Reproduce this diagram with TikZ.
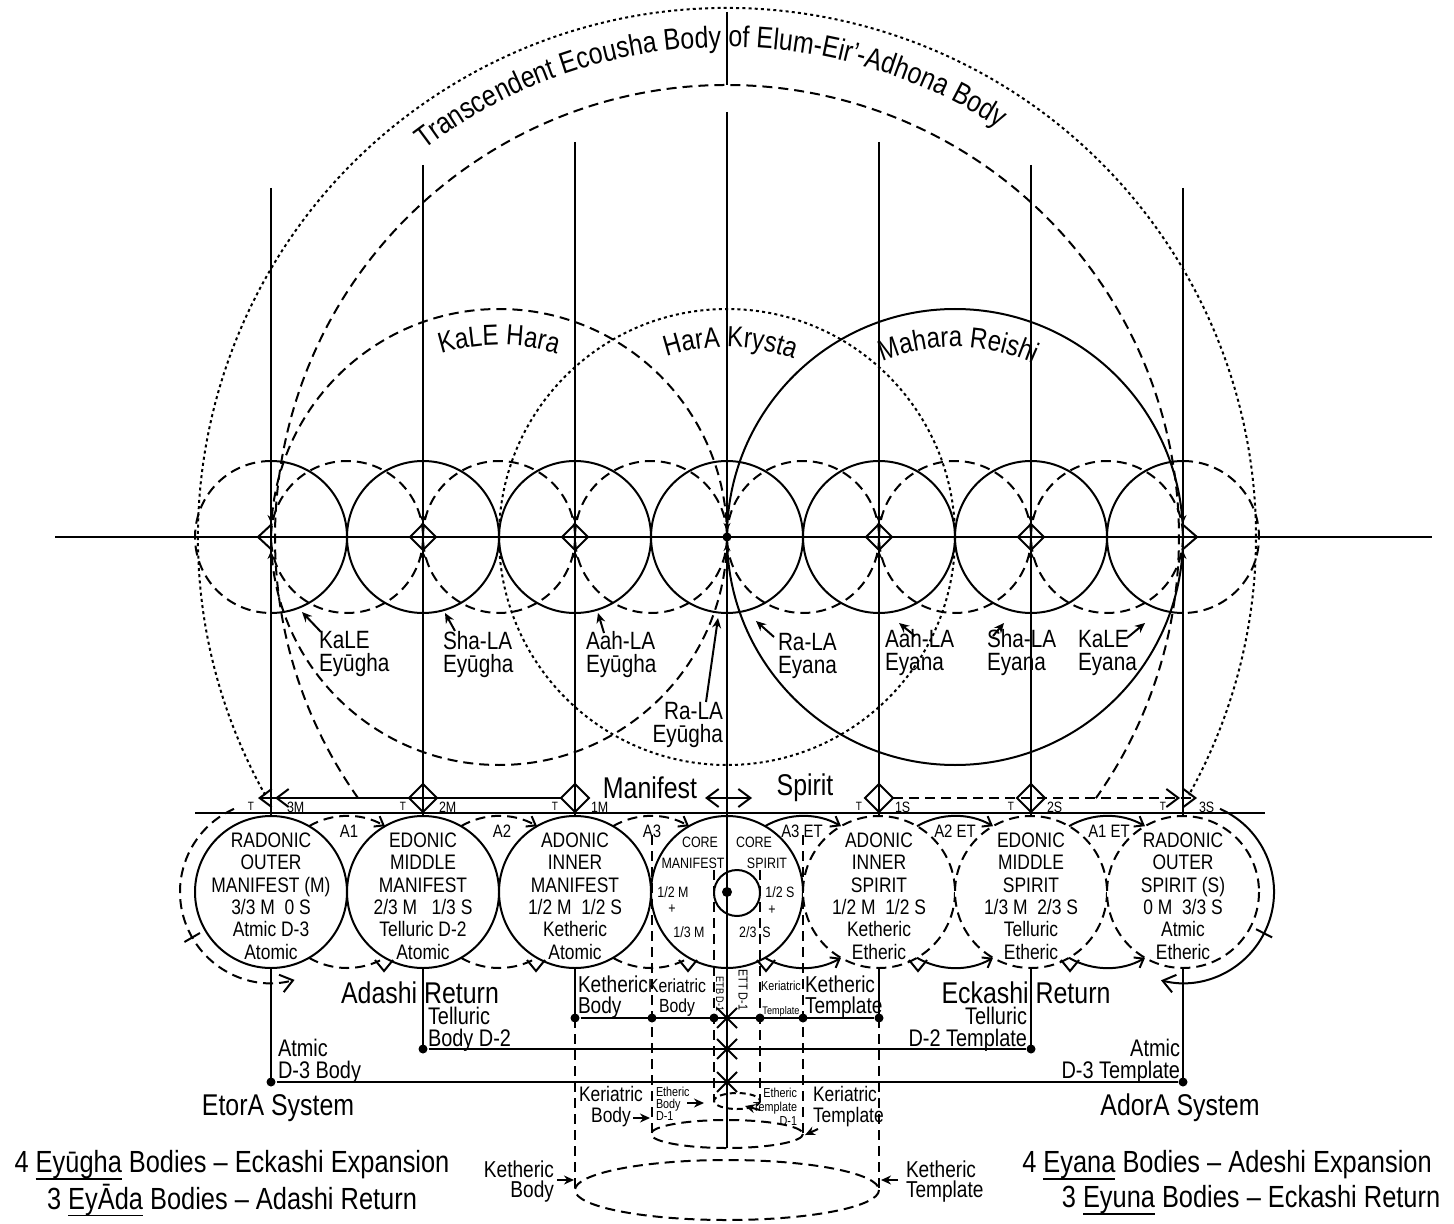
\documentclass[tikz,border=0pt]{standalone}
\usepackage{fontspec}
\setmainfont{Liberation Sans}[FakeStretch=0.83]
\usetikzlibrary{arrows.meta,decorations.text}
\newcommand{\fsz}[2]{\fontsize{#1}{#2}\selectfont}
\newcommand{\uln}[1]{\setbox0=\hbox{#1}\rlap{\rule[-3.6pt]{\wd0}{0.7pt}}\box0\relax}
\tikzset{
  dsh/.style={dash pattern=on 5pt off 3pt},
  dts/.style={dash pattern=on 1.5pt off 1.6pt},
  sbarb/.style={-{Straight Barb[length=4pt,width=6pt]}},
  tip/.style={-{Stealth[length=4pt,width=3.5pt]}},
  lbl/.style={-{Stealth[length=5pt,width=4.5pt]}},
  txt/.style={inner sep=0pt, align=center},
  dot/.style={circle, fill, inner sep=0pt, minimum size=4.5pt},
  arctext/.style={decorate, decoration={text along path, text align=center, text={#1}}},
}
\begin{document}
\begin{tikzpicture}[line width=1pt, x=0.5pt, y=-0.5pt, >={Straight Barb[length=6pt,width=9pt]}]
\useasboundingbox (0,0) rectangle (1454,1224);

%outer circles
\draw[dts] (727,537) ++(150.8:529) arc[start angle=150.8, end angle=389.2, radius=529];
\draw[dsh] (727,537) ++(144.7:452) arc[start angle=144.7, end angle=395.3, radius=452];
\path[arctext={|\fsz{15}{15}|Transcendent Ecousha Body of Elum-Eir'-Adhona Body}]
  ([shift={(-132.2:498)}]727,545) arc[start angle=-132.2, end angle=-52.2, radius=498];

%hara circles
\draw[dsh] (499,537) circle[radius=228];
\draw[dts] (727,537) circle[radius=228];
\draw (955,537) circle[radius=228];
\path[arctext={|\fsz{14.5}{14}|KaLE Hara}] ([shift={(-125:192)}]499,537) arc[start angle=-125, end angle=-55, radius=192];
\path[arctext={|\fsz{14.5}{14}|HarA Krysta}] ([shift={(-124:190)}]727,537) arc[start angle=-124, end angle=-54, radius=190];
\path[arctext={|\fsz{14.5}{14}|Mahara Reishi}] ([shift={(-124:190)}]955,537) arc[start angle=-124, end angle=-54, radius=190];

%axes
\draw (55,537) -- (1432,537);
\draw (727,12) -- (727,85);
\foreach \x/\t/\b in {271/188/1082, 423/165/1049, 575/142/1018, 879/142/1018, 1031/165/1049, 1183/188/1082}
  \draw (\x,\t) -- (\x,\b);

%eyugha and eyana circles
\foreach \x in {347,499,651,803,955,1107}
  \draw[dsh] (\x,537) circle[radius=76];
\foreach \x in {423,575,727,879,1031}
  \draw (\x,537) circle[radius=76];
\draw (271,461) arc[start angle=-90, end angle=90, radius=76];
\draw[dsh] (271,461) arc[start angle=-90, end angle=-270, radius=76];
\draw (1183,461) arc[start angle=-90, end angle=-270, radius=76];
\draw[dsh] (1183,461) arc[start angle=-90, end angle=90, radius=76];
\foreach \x in {423,575,879,1031}
  \draw (\x,524) -- (\x+13,537) -- (\x,550) -- (\x-13,537) -- cycle;
\draw (272,524) -- (258,537) -- (272,550);
\draw (1182,524) -- (1197,537) -- (1182,550);
\foreach \x in {271,423,575,879,1031,1183}{
  \draw[tip] (\x,508) -- (\x,523);
  \draw[tip] (\x,566) -- (\x,551);
}
\draw[tip] (727,514) -- (727,531);
\draw[tip] (727,560) -- (727,543);
\node[dot] (ctr) at (727,537) {};

%eyugha and eyana labels
\node[txt, align=left, anchor=west, font=\fsz{12.5}{11.5}] (keg) at (318,654) {KaLE\\Eyūgha};
\node[txt, align=left, anchor=west, font=\fsz{12.5}{11.5}] (seg) at (442,655) {Sha-LA\\Eyūgha};
\node[txt, align=left, anchor=west, font=\fsz{12.5}{11.5}] (aeg) at (585,655) {Aah-LA\\Eyūgha};
\node[txt, align=right, anchor=east, font=\fsz{12.5}{11.5}] (reg) at (724,725) {Ra-LA\\Eyūgha};
\node[txt, align=left, anchor=west, font=\fsz{12.5}{11.5}] (rey) at (777,656) {Ra-LA\\Eyana};
\node[txt, align=left, anchor=west, font=\fsz{12.5}{11.5}] (aey) at (884,653) {Aah-LA\\Eyana};
\node[txt, align=left, anchor=west, font=\fsz{12.5}{11.5}] (sey) at (986,653) {Sha-LA\\Eyana};
\node[txt, align=left, anchor=west, font=\fsz{12.5}{11.5}] (key) at (1077,653) {KaLE\\Eyana};
\foreach \n/\ax/\ay/\bx/\by in {ke/321/632/302/612, se/455/631/445/613, ae/604/633/598/613, re/706/702/718/618,
  ra/774/637/756/621, aa/915/636/899/623, sa/993/636/1004/623, kn/1127/638/1145/623}{
  \coordinate (\n1) at (\ax,\ay);
  \coordinate (\n2) at (\bx,\by);
  \draw[lbl] (\n1) -- (\n2);
}

%manifest and spirit row
\foreach \x/\s in {271/solid, 423/solid, 575/solid, 727/solid, 879/dsh, 1031/dsh, 1183/dsh}
  \draw[\s, fill=white] (\x,892) circle[radius=76];
\draw (195,813) -- (1265,813);
\draw[->] (561,798) -- (258,798);
\draw[->] (276,798) -- (275,798);
\draw[dsh,->] (893,798) -- (1197,798);
\draw[->] (1179,798) -- (1180,798);
\draw[<->] (705,798) -- (752,798);
\foreach \x in {423,575,879,1031}
  \draw (\x,784) -- (\x+14,798) -- (\x,812) -- (\x-14,798) -- cycle;
\foreach \x/\m in {271/3M, 423/2M, 575/1M, 879/1S, 1031/2S, 1183/3S}{
  \node[txt, font=\fsz{6}{6}] (tt\x) at (\x-20,806) {T};
  \node[txt, anchor=west, font=\fsz{7.5}{7.5}] (mm\x) at (\x+15,807) {\m};
}
\node[txt, font=\fsz{15}{15}] (man) at (650,788) {Manifest};
\node[txt, font=\fsz{15}{15}] (spi) at (805,788) {Spirit};

%connector arcs
\foreach \x in {347,499,651}{
  \draw[dsh,sbarb] (\x,892) ++(-120:76) arc[start angle=-120, end angle=-60, radius=76];
  \draw[dsh] (\x,892) ++(120:76) arc[start angle=120, end angle=60, radius=76];
  \draw (\x+28,960) -- (\x+37,971) -- (\x+46,960);
}
\foreach \x in {803,955,1107}{
  \draw[sbarb] (\x,892) ++(-120:76) arc[start angle=-120, end angle=-60, radius=76];
  \draw[sbarb] (\x,892) ++(120:76) arc[start angle=120, end angle=60, radius=76];
  \draw (\x-46,960) -- (\x-37,971) -- (\x-28,960);
}
\draw[dsh,->] (271,892) ++(-114:91) arc[start angle=-114, end angle=-285, radius=91];
\draw (271,892) ++(150:82) -- ++(150:18);
\draw[->] (1183,892) ++(-66:91) arc[start angle=-66, end angle=104, radius=91];
\draw (1183,892) ++(27:82) -- ++(27:18);
\node[txt, font=\fsz{9}{9}] (a1) at (349,831) {A1};
\node[txt, font=\fsz{9}{9}] (a2) at (502,831) {A2};
\node[txt, font=\fsz{9}{9}] (a3) at (652,831) {A3};
\node[txt, font=\fsz{9}{9}] (a3e) at (802,831) {A3 ET};
\node[txt, font=\fsz{9}{9}] (a2e) at (955,831) {A2 ET};
\node[txt, font=\fsz{9}{9}] (a1e) at (1109,831) {A1 ET};

%circle texts
\node[txt, font=\fsz{10.5}{11.2}] (rom) at (271,896) {RADONIC\\OUTER\\MANIFEST (M)\\3/3 M\ \ 0 S\\Atmic D-3\\Atomic};
\node[txt, font=\fsz{10.5}{11.2}] (emm) at (423,896) {EDONIC\\MIDDLE\\MANIFEST\\2/3 M\ \ \ 1/3 S\\Telluric D-2\\Atomic};
\node[txt, font=\fsz{10.5}{11.2}] (aim) at (575,896) {ADONIC\\INNER\\MANIFEST\\1/2 M\ \ 1/2 S\\Ketheric\\Atomic};
\node[txt, font=\fsz{10.5}{11.2}] (ais) at (879,896) {ADONIC\\INNER\\SPIRIT\\1/2 M\ \ 1/2 S\\Ketheric\\Etheric};
\node[txt, font=\fsz{10.5}{11.2}] (ems) at (1031,896) {EDONIC\\MIDDLE\\SPIRIT\\1/3 M\ \ 2/3 S\\Telluric\\Etheric};
\node[txt, font=\fsz{10.5}{11.2}] (ros) at (1183,896) {RADONIC\\OUTER\\SPIRIT (S)\\0 M\ \ 3/3 S\\Atmic\\Etheric};

%core
\draw (727,112) -- (727,1148);
\draw (737,893) circle[radius=23];
\node[dot, minimum size=5pt] (cdot) at (727,892) {};
\node[txt, font=\fsz{7.5}{7.5}] (c1) at (700,842) {CORE};
\node[txt, font=\fsz{7.5}{7.5}] (c2) at (693,863) {MANIFEST};
\node[txt, font=\fsz{7.5}{7.5}] (c3) at (754,842) {CORE};
\node[txt, font=\fsz{7.5}{7.5}] (c4) at (767,863) {SPIRIT};
\node[txt, font=\fsz{7.5}{7.5}] (c5) at (673,892) {1/2 M};
\node[txt, font=\fsz{7.5}{7.5}] (c6) at (672,909) {+};
\node[txt, font=\fsz{7.5}{7.5}] (c7) at (689,932) {1/3 M};
\node[txt, font=\fsz{7.5}{7.5}] (c8) at (780,892) {1/2 S};
\node[txt, font=\fsz{7.5}{7.5}] (c9) at (772,910) {+};
\node[txt, font=\fsz{7.5}{7.5}] (c10) at (755,932) {2/3\ \,S};

%bodies and templates
\draw[dsh] (575,1018) -- (575,1190);
\draw[dsh] (879,1018) -- (879,1190);
\draw[dsh] (652,835) -- (652,1134);
\draw[dsh] (803,835) -- (803,1134);
\draw[dsh] (714,870) -- (714,1101);
\draw[dsh] (760,870) -- (760,1101);
\foreach \x in {575,652,714,760,803,879}
  \node[dot] (ka\x) at (\x,1018) {};
\node[dot] (te423) at (423,1049) {};
\node[dot] (te1031) at (1031,1049) {};
\node[dot] (at271) at (271,1082) {};
\node[dot] (at1183) at (1183,1082) {};
\draw (ka575) -- (ka879);
\draw (te423) -- (te1031);
\draw (at271) -- (at1183);
\foreach \y in {1018,1049,1082}{
  \draw (717,\y-10) -- (737,\y+10);
  \draw (717,\y+10) -- (737,\y-10);
}
\draw[dsh] (727,1190) ellipse[x radius=152, y radius=30];
\draw[dsh] (727,1134) ellipse[x radius=76, y radius=14];
\draw[dash pattern=on 3pt off 2pt] (737,1101) ellipse[x radius=23, y radius=8];

\node[txt, font=\fsz{15}{15}] (adr) at (420,993) {Adashi Return};
\node[txt, font=\fsz{15}{15}] (ecr) at (1026,993) {Eckashi Return};
\node[txt, align=left, anchor=west, font=\fsz{11.5}{10.5}] (keb) at (577,997) {Ketheric\\Body};
\node[txt, font=\fsz{9.5}{10}] (krb) at (677,998) {Keriatric\\Body};
\node[txt, rotate=-90, font=\fsz{5.5}{6}] (etb) at (720,994) {ETB D-1};
\node[txt, rotate=-90, font=\fsz{6.5}{7}] (ett) at (743,990) {ETT D-1};
\node[txt] (krt) at (781,999) {\fsz{6.5}{7}Keriatric\\\fsz{5.5}{8}Template};
\node[txt, align=left, anchor=west, font=\fsz{11.5}{10.5}] (ket) at (804,997) {Ketheric\\Template};
\node[txt, align=left, anchor=west, font=\fsz{12}{11}] (tbd) at (427,1029) {Telluric\\Body D-2};
\node[txt, align=left, anchor=west, font=\fsz{12}{11}] (abd) at (277,1061) {Atmic\\D-3 Body};
\node[txt, align=right, anchor=east, font=\fsz{12}{11}] (ttp) at (1028,1029) {Telluric\\D-2 Template};
\node[txt, align=right, anchor=east, font=\fsz{12}{11}] (atp) at (1181,1061) {Atmic\\D-3 Template};
\node[txt, font=\fsz{15}{15}] (eto) at (278,1108) {EtorA System};
\node[txt, font=\fsz{15}{15}] (ado) at (1180,1108) {AdorA System};

%ellipse labels
\node[txt, font=\fsz{10.5}{10.5}] (krb2) at (611,1107) {Keriatric\\Body};
\node[txt, align=left, anchor=west, font=\fsz{6.5}{6}] (etb2) at (655,1104) {Etheric\\Body\\D-1};
\node[txt, align=right, anchor=east, font=\fsz{6.5}{7}] (ett2) at (798,1107) {Etheric\\Template\\D-1};
\node[txt, align=left, anchor=west, font=\fsz{10.5}{10.5}] (krt2) at (812,1107) {Keriatric\\Template};
\node[txt, align=right, anchor=east, font=\fsz{11.5}{10}] (keb2) at (555,1182) {Ketheric\\Body};
\node[txt, align=left, anchor=west, font=\fsz{11.5}{10}] (ket2) at (905,1182) {Ketheric\\Template};
\foreach \n/\ax/\ay/\bx/\by in {kb/633/1118/650/1118, eb/687/1103/704/1103, et/760/1110/745/1106,
  kt/818/1129/805/1135, hb/557/1180/574/1180, ht/898/1180/881/1180}{
  \coordinate (\n1) at (\ax,\ay);
  \coordinate (\n2) at (\bx,\by);
  \draw[lbl] (\n1) -- (\n2);
}

%bottom lines
\node[txt, font=\fsz{15.3}{15}] (bl1) at (232,1165) {4 \uln{Eyūgha} Bodies – Eckashi Expansion};
\node[txt, font=\fsz{15.3}{15}] (bl2) at (232,1200) {3 \uln{EyĀda} Bodies – Adashi Return};
\node[txt, font=\fsz{15.3}{15}] (br1) at (1227,1165) {4 \uln{Eyana} Bodies – Adeshi Expansion};
\node[txt, font=\fsz{15.3}{15}] (br2) at (1251,1200) {3 \uln{Eyuna} Bodies – Eckashi Return};
\end{tikzpicture}
\end{document}
